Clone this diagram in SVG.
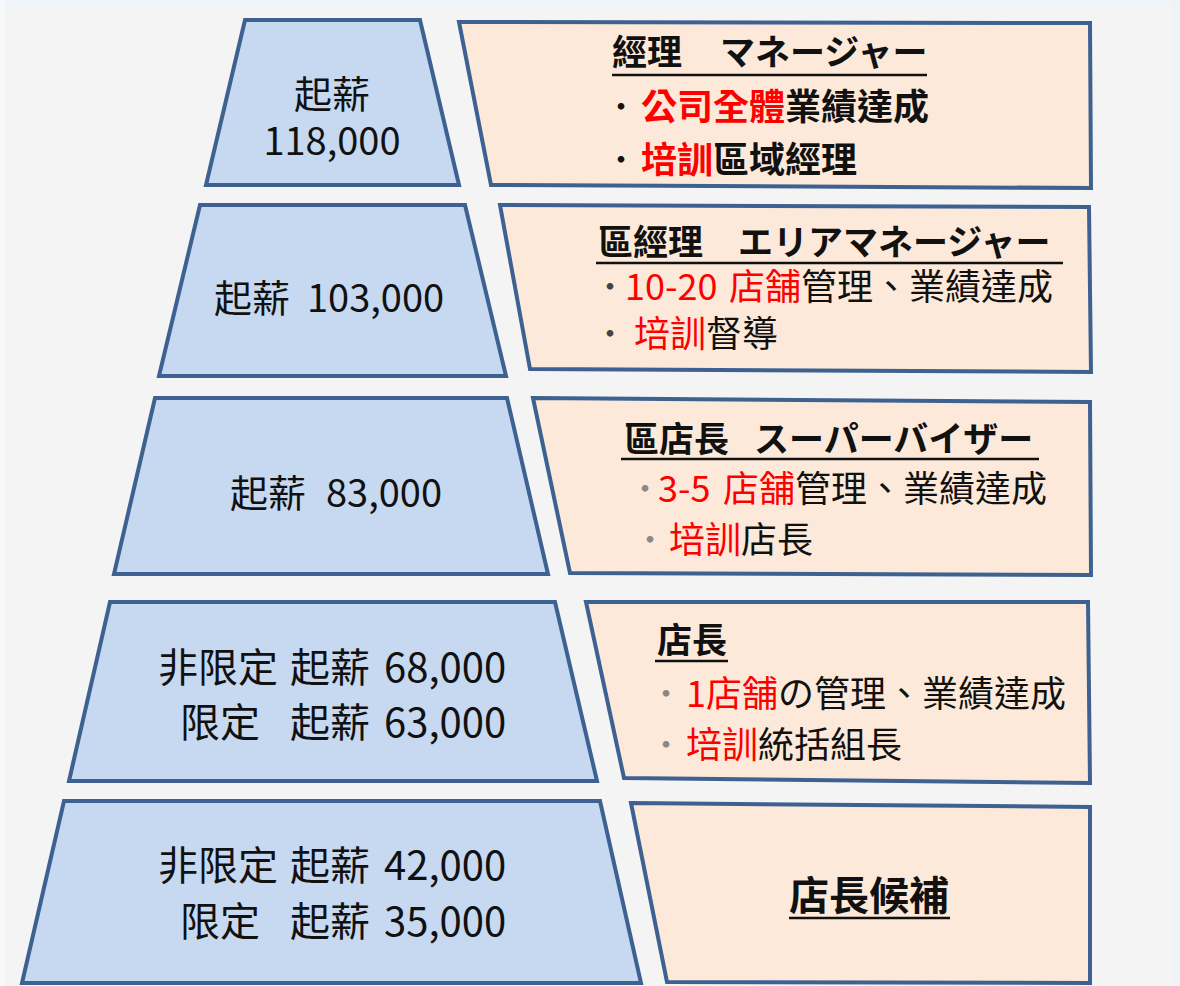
<svg xmlns="http://www.w3.org/2000/svg" width="1180" height="986" viewBox="0 0 1180 986">
<style>
.trap{fill:#c6d9f0;stroke:#3d6190;stroke-width:4;stroke-linejoin:miter}
.box{fill:#fde9d9;stroke:#3d6190;stroke-width:4;stroke-linejoin:miter}
text{font-family:"Noto Sans CJK TC","Noto Sans CJK JP",sans-serif;fill:#111}
.sal{font-size:38px}
.sal2{font-size:40px}
.ttl{font-size:35px;font-weight:bold}
.ln{font-size:36px}
.lb{font-size:36px;font-weight:bold}
.r{fill:#ff0000}
.dot{fill:#444;text-anchor:middle;font-size:26px;font-weight:bold}
.dotg{fill:#888;text-anchor:middle;font-size:26px;font-weight:bold}
.ul{stroke:#111;stroke-width:2.5}
</style>
<rect x="0" y="0" width="1180" height="986" fill="#f4f4f4"/>
<rect x="0" y="0" width="1180" height="5" fill="#eef4fa"/>
<rect x="0" y="0" width="5" height="986" fill="#f8f9fa"/>
<rect x="1172" y="0" width="8" height="986" fill="#eef3f8"/>

<g id="salary-1">
<polygon class="trap" points="245,20 420,20 459,185 206,185"/>
<text class="sal" text-anchor="middle"><tspan x="332" y="108">起薪</tspan><tspan x="332" y="155">118,000</tspan></text>
</g>
<g id="salary-2">
<polygon class="trap" points="200,205 465,205 506,376 159,376"/>
<text class="sal" y="312"><tspan x="214">起薪</tspan><tspan x="307">103,000</tspan></text>
</g>
<g id="salary-3">
<polygon class="trap" points="155,398 507,398 548,574 114,574"/>
<text class="sal" y="507"><tspan x="230">起薪</tspan><tspan x="326">83,000</tspan></text>
</g>
<g id="salary-4">
<polygon class="trap" points="110,602 555,602 597,781 69,781"/>
<text class="sal2"><tspan x="158" y="682">非限定</tspan><tspan x="290" y="682">起薪</tspan><tspan x="384" y="682">68,000</tspan><tspan x="180" y="737">限定</tspan><tspan x="290" y="737">起薪</tspan><tspan x="384" y="737">63,000</tspan></text>
</g>
<g id="salary-5">
<polygon class="trap" points="64,801 600,801 641,983 22,983"/>
<text class="sal2"><tspan x="158" y="880">非限定</tspan><tspan x="290" y="880">起薪</tspan><tspan x="384" y="880">42,000</tspan><tspan x="180" y="936">限定</tspan><tspan x="290" y="936">起薪</tspan><tspan x="384" y="936">35,000</tspan></text>
</g>

<g id="role-1">
<polygon class="box" points="459,22 1090,23 1091,188 491,185"/>
<text class="ttl" y="65"><tspan x="612">經理</tspan><tspan x="720">マネージャー</tspan></text>
<line class="ul" x1="612" y1="75" x2="927" y2="75"/>
<text class="dot" x="621" y="116" style="fill:#111">·</text>
<text class="lb" y="120"><tspan x="641" class="r">公司全體</tspan><tspan>業績達成</tspan></text>
<text class="dot" x="621" y="169" style="fill:#111">·</text>
<text class="lb" y="173"><tspan x="641" class="r">培訓</tspan><tspan>區域經理</tspan></text>
</g>
<g id="role-2">
<polygon class="box" points="500,205 1089,207 1091,372 530,369"/>
<text class="ttl" y="255"><tspan x="598">區經理</tspan><tspan x="738">エリアマネージャー</tspan></text>
<line class="ul" x1="596" y1="263" x2="1063" y2="263"/>
<text class="dot" x="610" y="296">·</text>
<text class="ln" y="300"><tspan x="625" class="r">10-20</tspan><tspan x="729" class="r">店舗</tspan><tspan x="801">管理、業績達成</tspan></text>
<text class="dot" x="610" y="343">·</text>
<text class="ln" y="347"><tspan x="634" class="r">培訓</tspan><tspan>督導</tspan></text>
</g>
<g id="role-3">
<polygon class="box" points="533,398 1090,402 1091,575 570,573"/>
<text class="ttl" y="452"><tspan x="624">區店長</tspan><tspan x="754">スーパーバイザー</tspan></text>
<line class="ul" x1="621" y1="459" x2="1039" y2="459"/>
<text class="dotg" x="645" y="498">·</text>
<text class="ln" y="502"><tspan x="658" class="r">3-5</tspan><tspan x="723" class="r">店舗</tspan><tspan x="795">管理、業績達成</tspan></text>
<text class="dotg" x="650" y="549">·</text>
<text class="ln" y="553"><tspan x="669" class="r">培訓</tspan><tspan>店長</tspan></text>
</g>
<g id="role-4">
<polygon class="box" points="586,602 1088,602 1090,783 624,778"/>
<text class="ttl" x="657" y="653">店長</text>
<line class="ul" x1="655" y1="661" x2="728" y2="661"/>
<text class="dotg" x="666" y="703">·</text>
<text class="ln" y="707"><tspan x="686" class="r">1店舗</tspan><tspan>の管理、業績達成</tspan></text>
<text class="dotg" x="666" y="754">·</text>
<text class="ln" y="758"><tspan x="686" class="r">培訓</tspan><tspan>統括組長</tspan></text>
</g>
<g id="role-5">
<polygon class="box" points="631,803 1090,807 1090,983 667,982"/>
<text x="789" y="910" style="font-size:40px;font-weight:bold">店長候補</text>
<line class="ul" x1="789" y1="918" x2="950" y2="918"/>
</g>
<g id="connectors"/>
</svg>
